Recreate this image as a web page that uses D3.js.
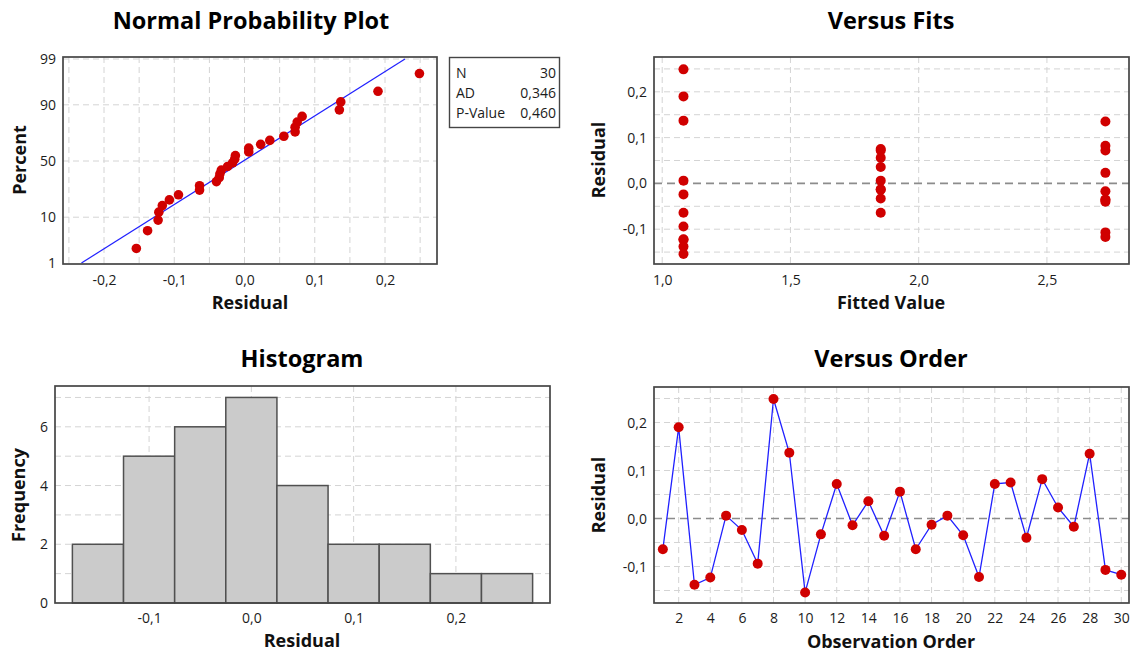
<!DOCTYPE html>
<html>
<head>
<meta charset="utf-8">
<script src="https://cdn.jsdelivr.net/npm/d3@7"></script>
<style>
  body { margin: 0; background: #fff; }
  svg text { font-family: "Open Sans", "Noto Sans", sans-serif; fill: #1c1c1c; }
</style>
</head>
<body>
<svg id="chart" width="1131" height="655"></svg>
<script>
// residuals, in observation order
const RESIDUALS = [-0.064, 0.190, -0.138, -0.123, 0.006, -0.024, -0.094, 0.249, 0.137, -0.154,
                   -0.033, 0.072, -0.014, 0.036, -0.036, 0.056, -0.064, -0.013, 0.006, -0.035,
                   -0.122, 0.072, 0.075, -0.040, 0.082, 0.023, -0.017, 0.135, -0.107, -0.117];
// fitted value of each observation
const FITTED = [1.083, 1.083, 1.083, 1.083, 1.852, 1.083, 1.083, 1.083, 1.083, 1.083,
                1.852, 1.852, 1.852, 1.852, 2.728, 1.852, 1.852, 1.852, 1.083, 2.728,
                1.083, 2.728, 1.852, 2.728, 2.728, 2.728, 2.728, 2.728, 2.728, 2.728];
const HIST_MIDS = [-0.15, -0.10, -0.05, 0.00, 0.05, 0.10, 0.15, 0.20, 0.25];
const HIST_COUNTS = [2, 5, 6, 7, 4, 2, 2, 1, 1];
const BIN_WIDTH = 0.05;

const PCT_TICKS = [1, 10, 50, 90, 99];
const RESID_X_TICKS = [-0.2, -0.1, 0.0, 0.1, 0.2];
const RESID_X_GRID = [-0.25, -0.2, -0.15, -0.1, -0.05, 0, 0.05, 0.1, 0.15, 0.2, 0.25];
const HIST_X_TICKS = [-0.1, 0.0, 0.1, 0.2];
const RESID_Y_TICKS = [-0.1, 0.0, 0.1, 0.2];
const RESID_Y_GRID = [-0.15, -0.1, -0.05, 0.05, 0.1, 0.15, 0.2, 0.25];
const FIT_TICKS = [1.0, 1.5, 2.0, 2.5];
const ORDER_TICKS = [2, 4, 6, 8, 10, 12, 14, 16, 18, 20, 22, 24, 26, 28, 30];
const FREQ_TICKS = [0, 2, 4, 6];
const FREQ_GRID = [1, 2, 3, 4, 5, 6, 7];
const STAT_NAMES = ["N", "AD", "P-Value"];
const STAT_VALUES = ["30", "0,346", "0,460"];

const RED = "#d00000", BLUE = "#2020ff", GRID = "#d4d4d4", FRAME = "#454545";

const svg = d3.select("#chart");
const loc = d3.formatLocale({decimal: ",", thousands: ".", grouping: [3], currency: ["", ""], minus: "-"});
const f1 = loc.format(".1f");

// inverse normal cdf (Acklam)
function probit(p) {
  const a = [-39.69683028665376, 220.9460984245205, -275.9285104469687, 138.3577518672690, -30.66479806614716, 2.506628277459239];
  const b = [-54.47609879822406, 161.5858368580409, -155.6989798598866, 66.80131188771972, -13.28068155288572];
  const c = [-0.007784894002430293, -0.3223964580411365, -2.400758277161838, -2.549732539343734, 4.374664141464968, 2.938163982698783];
  const d = [0.007784695709041462, 0.3224671290700398, 2.445134137142996, 3.754408661907416];
  const pl = 0.02425;
  let q, r;
  if (p < pl) {
    q = Math.sqrt(-2 * Math.log(p));
    return (((((c[0]*q+c[1])*q+c[2])*q+c[3])*q+c[4])*q+c[5]) / ((((d[0]*q+d[1])*q+d[2])*q+d[3])*q+1);
  }
  if (p > 1 - pl) {
    q = Math.sqrt(-2 * Math.log(1 - p));
    return -(((((c[0]*q+c[1])*q+c[2])*q+c[3])*q+c[4])*q+c[5]) / ((((d[0]*q+d[1])*q+d[2])*q+d[3])*q+1);
  }
  q = p - 0.5; r = q * q;
  return (((((a[0]*r+a[1])*r+a[2])*r+a[3])*r+a[4])*r+a[5])*q / (((((b[0]*r+b[1])*r+b[2])*r+b[3])*r+b[4])*r+1);
}

function title(text, x, y) {
  svg.append("text").attr("x", x).attr("y", y).attr("text-anchor", "middle")
    .style("font-size", "23.5px").style("font-weight", "bold").style("fill", "#000").text(text);
}
function xLabel(text, x, y) {
  svg.append("text").attr("x", x).attr("y", y).attr("text-anchor", "middle")
    .style("font-size", "18px").style("font-weight", "bold").style("fill", "#111").text(text);
}
function yLabel(text, x, y) {
  svg.append("text").attr("transform", `translate(${x},${y}) rotate(-90)`).attr("text-anchor", "middle")
    .style("font-size", "18px").style("font-weight", "bold").style("fill", "#111").text(text);
}
function frame(b) {
  svg.append("rect").attr("x", b.x0).attr("y", b.y0).attr("width", b.x1 - b.x0).attr("height", b.y1 - b.y0)
    .attr("fill", "none").attr("stroke", FRAME).attr("stroke-width", 1.7);
}
function vGrid(g, xs, vals, b) {
  g.selectAll(null).data(vals).join("line")
    .attr("x1", d => xs(d)).attr("x2", d => xs(d)).attr("y1", b.y0).attr("y2", b.y1)
    .attr("stroke", GRID).attr("stroke-dasharray", "6,4");
}
function hGrid(g, ys, vals, b) {
  g.selectAll(null).data(vals).join("line")
    .attr("y1", d => ys(d)).attr("y2", d => ys(d)).attr("x1", b.x0).attr("x2", b.x1)
    .attr("stroke", GRID).attr("stroke-dasharray", "6,4");
}
function zeroLine(g, ys, b) {
  g.append("line").attr("x1", b.x0).attr("x2", b.x1).attr("y1", ys(0)).attr("y2", ys(0))
    .attr("stroke", "#8c8c8c").attr("stroke-width", 1.6).attr("stroke-dasharray", "8,5");
}
function axes(xs, xt, xf, ys, yt, yf, b, pad) {
  svg.append("g").attr("transform", `translate(0,${b.y1})`)
    .call(d3.axisBottom(xs).tickValues(xt).tickFormat(xf).tickSize(0).tickPadding(pad))
    .call(g => g.select(".domain").remove())
    .selectAll("text").style("font-size", "14px").style("font-family", null);
  svg.append("g").attr("transform", `translate(${b.x0},0)`)
    .call(d3.axisLeft(ys).tickValues(yt).tickFormat(yf).tickSize(0).tickPadding(7))
    .call(g => g.select(".domain").remove())
    .selectAll("text").style("font-size", "14px").style("font-family", null);
}

// ---------- Normal Probability Plot ----------
{
  const b = {x0: 63, x1: 437, y0: 57, y1: 264};
  const x = d3.scaleLinear().domain([-0.2584, 0.274]).range([b.x0, b.x1]);
  const y = d3.scaleLinear().domain([probit(0.01), probit(0.99)]).range([263, 59]);
  const g = svg.append("g");
  vGrid(g, x, RESID_X_GRID, b);
  hGrid(g, p => y(probit(p / 100)), [10, 50, 90, 99], b);

  const n = RESIDUALS.length;
  const sorted = RESIDUALS.slice().sort(d3.ascending);
  const pts = sorted.map((r, i) => ({r, z: probit((i + 1 - 0.3) / (n + 0.4))}));
  const mu = d3.mean(RESIDUALS), sd = d3.deviation(RESIDUALS);
  const zLo = probit(0.01), zHi = probit(0.99);
  g.append("line")
    .attr("x1", x(mu + zLo * sd)).attr("y1", y(zLo))
    .attr("x2", x(mu + zHi * sd)).attr("y2", y(zHi))
    .attr("stroke", BLUE).attr("stroke-width", 1.2);
  g.selectAll("circle").data(pts).join("circle")
    .attr("cx", d => x(d.r)).attr("cy", d => y(d.z)).attr("r", 4.8).attr("fill", RED);

  axes(x, RESID_X_TICKS, f1, y, PCT_TICKS.map(p => probit(p / 100)), (d, i) => PCT_TICKS[i], b, 11);
  frame(b);
  title("Normal Probability Plot", 251, 29);
  xLabel("Residual", 250, 309);
  yLabel("Percent", 26, 160);

  // stats box
  const lg = svg.append("g");
  lg.append("rect").attr("x", 449.5).attr("y", 57.5).attr("width", 110).attr("height", 70)
    .attr("fill", "#fff").attr("stroke", FRAME).attr("stroke-width", 1.4);
  lg.selectAll(".sn").data(STAT_NAMES).join("text").attr("class", "sn")
    .attr("x", 456).attr("y", (d, i) => 78 + i * 20).style("font-size", "14px").text(d => d);
  lg.selectAll(".sv").data(STAT_VALUES).join("text").attr("class", "sv")
    .attr("x", 556).attr("y", (d, i) => 78 + i * 20).attr("text-anchor", "end").style("font-size", "14px").text(d => d);
}

// ---------- Versus Fits ----------
{
  const b = {x0: 654, x1: 1129, y0: 57, y1: 264};
  const x = d3.scaleLinear().domain([0.968, 2.82]).range([b.x0, b.x1]);
  const y = d3.scaleLinear().domain([-0.176, 0.276]).range([b.y1, b.y0]);
  const g = svg.append("g");
  vGrid(g, x, FIT_TICKS, b);
  hGrid(g, y, RESID_Y_GRID, b);
  zeroLine(g, y, b);
  g.selectAll("circle").data(RESIDUALS).join("circle")
    .attr("cx", (d, i) => x(FITTED[i])).attr("cy", d => y(d)).attr("r", 5).attr("fill", RED);
  axes(x, FIT_TICKS, f1, y, RESID_Y_TICKS, f1, b, 11);
  frame(b);
  title("Versus Fits", 891, 29);
  xLabel("Fitted Value", 891, 309);
  yLabel("Residual", 605, 160);
}

// ---------- Histogram ----------
{
  const b = {x0: 55, x1: 550, y0: 386, y1: 603};
  const x = d3.scaleLinear().domain([-0.192, 0.292]).range([b.x0, b.x1]);
  const y = d3.scaleLinear().domain([0, 7.39]).range([b.y1, b.y0]);
  const g = svg.append("g");
  vGrid(g, x, HIST_X_TICKS, b);
  hGrid(g, y, FREQ_GRID, b);
  g.selectAll("rect").data(HIST_COUNTS).join("rect")
    .attr("x", (d, i) => x(HIST_MIDS[i] - BIN_WIDTH / 2))
    .attr("width", (d, i) => x(HIST_MIDS[i] + BIN_WIDTH / 2) - x(HIST_MIDS[i] - BIN_WIDTH / 2))
    .attr("y", d => y(d)).attr("height", d => y(0) - y(d))
    .attr("fill", "#cbcbcb").attr("stroke", "#505050").attr("stroke-width", 1.5);
  axes(x, HIST_X_TICKS, f1, y, FREQ_TICKS, d3.format("d"), b, 10);
  frame(b);
  title("Histogram", 302, 367);
  xLabel("Residual", 302, 647);
  yLabel("Frequency", 25, 495);
}

// ---------- Versus Order ----------
{
  const b = {x0: 654, x1: 1129, y0: 387, y1: 603};
  const x = d3.scaleLinear().domain([0.44, 30.49]).range([b.x0, b.x1]);
  const y = d3.scaleLinear().domain([-0.176, 0.274]).range([b.y1, b.y0]);
  const g = svg.append("g");
  vGrid(g, x, ORDER_TICKS, b);
  hGrid(g, y, RESID_Y_GRID, b);
  zeroLine(g, y, b);
  const line = d3.line().x((d, i) => x(i + 1)).y(d => y(d));
  g.append("path").datum(RESIDUALS).attr("d", line)
    .attr("fill", "none").attr("stroke", BLUE).attr("stroke-width", 1.3);
  g.selectAll("circle").data(RESIDUALS).join("circle")
    .attr("cx", (d, i) => x(i + 1)).attr("cy", d => y(d)).attr("r", 5).attr("fill", RED);
  axes(x, ORDER_TICKS, d3.format("d"), y, RESID_Y_TICKS, f1, b, 10);
  frame(b);
  title("Versus Order", 891, 367);
  xLabel("Observation Order", 891, 648);
  yLabel("Residual", 605, 495);
}
</script>
</body>
</html>
